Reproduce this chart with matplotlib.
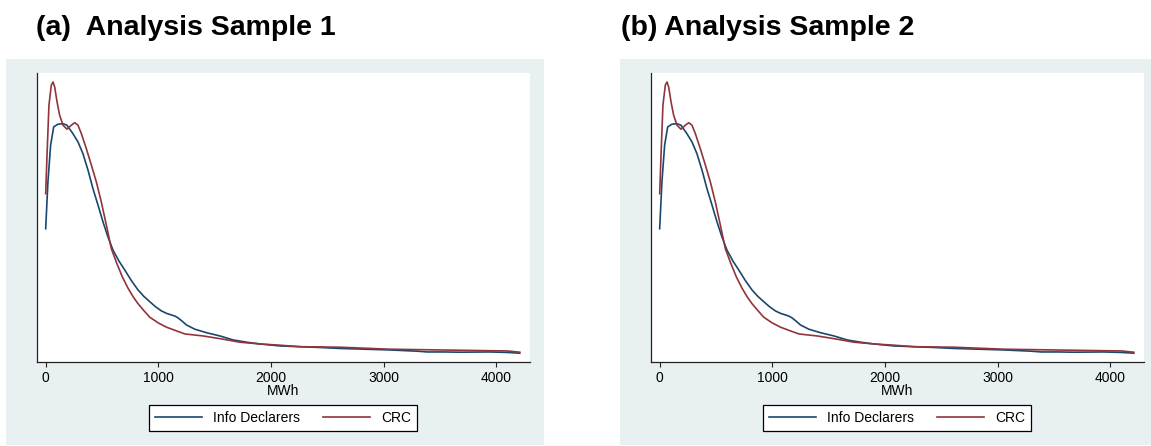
import matplotlib
matplotlib.use("Agg")
import matplotlib.pyplot as plt
from matplotlib.patches import Rectangle
from matplotlib.lines import Line2D

plt.rcParams['font.family'] = ['Liberation Sans', 'DejaVu Sans']

# ---- data (kernel density, arbitrary units x1e-4) ----
titles = ["(a)  Analysis Sample 1", "(b) Analysis Sample 2"]
series_names = ["Info Declarers", "CRC"]
x_ticks = [0, 1000, 2000, 3000, 4000]
x_label = "MWh"

info_mwh = [0, 20, 44, 71, 109, 154, 189, 242, 287, 331, 376, 420, 465, 509, 553,
            598, 650, 702, 760, 820, 870, 924, 975, 1028, 1075, 1117, 1150, 1176,
            1212, 1250, 1324, 1428, 1547, 1665, 1784, 1902, 2080, 2258, 2430, 2611,
            2830, 3055, 3300, 3388, 3540, 3677, 3943, 4100, 4209]
info_dens = [5.32, 7.19, 8.66, 9.39, 9.50, 9.52, 9.46, 9.12, 8.79, 8.32, 7.66,
             6.92, 6.26, 5.59, 4.99, 4.46, 4.03, 3.67, 3.25, 2.87, 2.62, 2.40, 2.20,
             2.03, 1.93, 1.87, 1.82, 1.75, 1.62, 1.47, 1.30, 1.16, 1.03, 0.87, 0.78,
             0.71, 0.63, 0.60, 0.57, 0.53, 0.50, 0.47, 0.42, 0.39, 0.39, 0.38, 0.39,
             0.37, 0.34]

crc_mwh = [0, 12, 29, 50, 65, 80, 101, 124, 154, 189, 228, 258, 287, 317, 361, 406,
           450, 494, 539, 583, 630, 680, 730, 776, 820, 867, 924, 1000, 1073, 1150,
           1236, 1398, 1576, 1724, 1902, 2080, 2258, 2611, 3055, 3499, 3943, 4100,
           4209]
crc_dens = [6.72, 8.26, 10.26, 11.06, 11.19, 10.99, 10.39, 9.86, 9.46, 9.30, 9.46,
            9.56, 9.46, 9.12, 8.52, 7.86, 7.19, 6.39, 5.46, 4.52, 3.95, 3.40, 2.95,
            2.60, 2.32, 2.07, 1.78, 1.55, 1.38, 1.25, 1.11, 1.03, 0.90, 0.78, 0.71,
            0.66, 0.60, 0.58, 0.50, 0.47, 0.44, 0.43, 0.38]

colors = ["#1a476f", "#90353b"]
bg = "#e8f0f2"

W, H = 1151, 446
fig = plt.figure(figsize=(W / 100, H / 100), dpi=100)
fig.patch.set_facecolor("white")

def fx(px):
    return px / W

def fy(py):
    return 1 - py / H

panels = [dict(bg=(6, 59, 544, 445), ax=(37, 72.7, 530, 361.7), title_x=36),
          dict(bg=(620, 59, 1158, 445), ax=(651, 72.7, 1144, 361.7), title_x=621)]

for i, p in enumerate(panels):
    x0, y0, x1, y1 = p["bg"]
    fig.patches.append(Rectangle((fx(x0), fy(y1)), fx(x1 - x0), (y1 - y0) / H,
                                 transform=fig.transFigure, facecolor=bg,
                                 edgecolor="none", zorder=-10))
    ax0, ay0, ax1, ay1 = p["ax"]
    ax = fig.add_axes([fx(ax0), fy(ay1), fx(ax1 - ax0), (ay1 - ay0) / H])
    ax.set_facecolor("white")
    ax.plot(info_mwh, info_dens, color=colors[0], lw=1.2, label=series_names[0])
    ax.plot(crc_mwh, crc_dens, color=colors[1], lw=1.2, label=series_names[1])
    ax.set_xlim(-77, 4300)
    ax.set_ylim(0, 11.56)
    ax.set_xticks(x_ticks)
    ax.set_xticklabels([str(t) for t in x_ticks])
    ax.set_yticks([])
    for s in ["top", "right"]:
        ax.spines[s].set_visible(False)
    for s in ["left", "bottom"]:
        ax.spines[s].set_color("#222222")
        ax.spines[s].set_linewidth(0.9)
    ax.tick_params(axis="x", direction="out", length=3.6, width=0.8,
                   color="#222222", labelsize=10, pad=3.2)
    ax.set_xlabel(x_label, fontsize=10, labelpad=-1)

    fig.text(fx(p["title_x"]), fy(35), titles[i], fontsize=20.5, fontweight="bold",
             va="baseline", ha="left")

    handles = [Line2D([], [], color=colors[0], lw=1.2),
               Line2D([], [], color=colors[1], lw=1.2)]
    lx_c = (ax0 - 37 + 150 + ax0 - 37 + 416) / 2
    leg = fig.legend(handles, series_names, loc="center",
                     bbox_to_anchor=(fx(lx_c), fy(418)), ncol=2, fontsize=10,
                     frameon=True, fancybox=False, framealpha=1,
                     edgecolor="black", handlelength=3.4, handletextpad=0.8,
                     columnspacing=1.6, borderpad=0.45, borderaxespad=0)
    leg.get_frame().set_linewidth(0.9)

fig.savefig("out.png", dpi=100)
